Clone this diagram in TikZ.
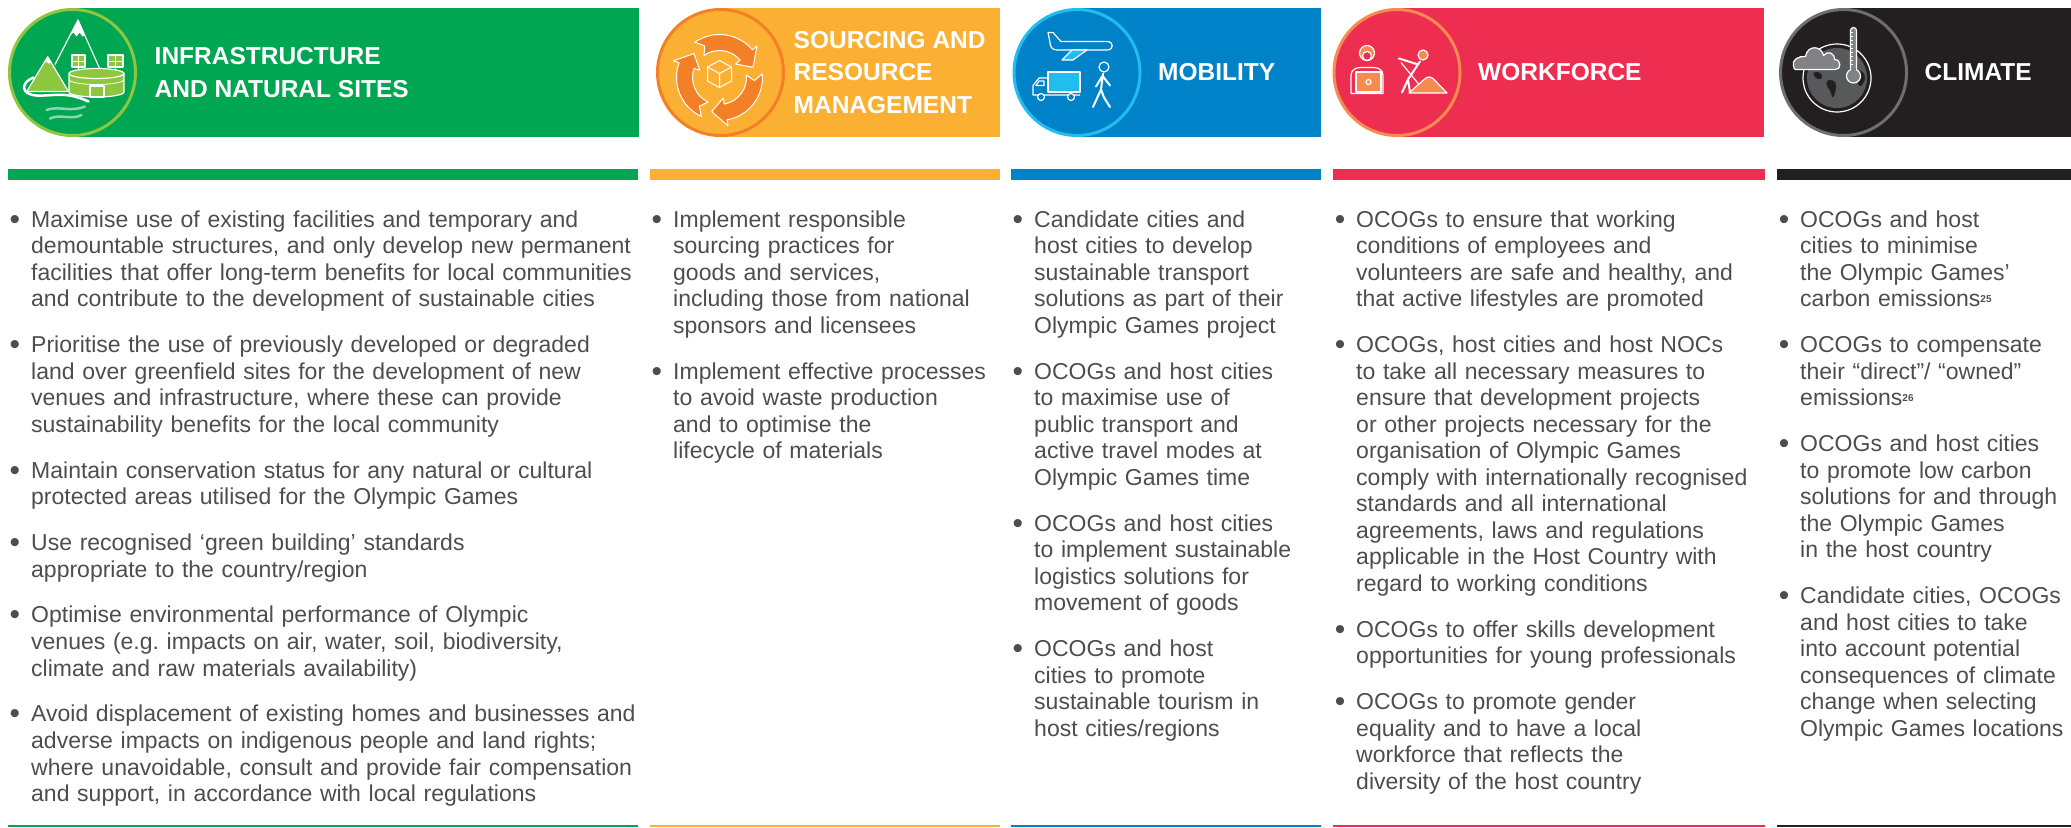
\documentclass[tikz,border=0pt]{standalone}
\usepackage{fontspec}
\setmainfont{Liberation Sans}
\usepackage{tikz}
\usetikzlibrary{positioning}
\definecolor{infragreen}{HTML}{00A651}
\definecolor{infraring}{HTML}{8DC63F}
\definecolor{sourceorange}{HTML}{FBB034}
\definecolor{sourcering}{HTML}{F37F26}
\definecolor{mobblue}{HTML}{0082C8}
\definecolor{mobring}{HTML}{22BDEF}
\definecolor{workred}{HTML}{EE2E50}
\definecolor{workring}{HTML}{F68B4F}
\definecolor{climblack}{HTML}{231F20}
\definecolor{climring}{HTML}{6D6E71}
\definecolor{climcloud}{HTML}{808285}
\definecolor{climglobe}{HTML}{58595B}
\definecolor{bodygray}{HTML}{4D4D4F}
\newcommand\itemdot{\noindent\llap{\raisebox{-2pt}{\scalebox{1.3}{\textbullet}}\hspace{11pt}}}
\newcommand\fnote[1]{\raisebox{4.5pt}{\fontsize{10}{10}\selectfont\bfseries #1}}

\begin{document}
\begin{tikzpicture}[x=1pt,y=-1pt,
  badge/.style={circle,draw=#1,line width=3pt,minimum size=126pt,inner sep=0pt,outer sep=0pt},
  head/.style={text=white,font=\fontsize{24.5}{32.5}\selectfont\bfseries,align=left,inner sep=0pt},
  item/.style={anchor=base west,inner sep=0pt,text width=700pt,align=left,text=bodygray,font=\fontsize{23}{26.56}\selectfont},
  icon/.style={draw=white,line width=1.2pt,line join=round}]
\useasboundingbox (0,0) rectangle (2071,827);

\foreach \col/\c/\r in {infragreen/72.5/639, sourceorange/720.5/1000, mobblue/1077/1321, workred/1397/1764, climblack/1843.5/2071}
  \fill[\col] (\c,8) rectangle (\r,137);
\foreach \col/\l/\r in {infragreen/8/638, sourceorange/650/1000, mobblue/1011/1321, workred/1333/1765, climblack/1777/2071}
  {\fill[\col] (\l,169) rectangle (\r,180);
   \fill[\col] (\l,824.5) rectangle (\r,827);}

\node[badge=infraring,fill=infragreen] (infraicon) at (72.5,72.5) {};
\node[badge=sourcering,fill=sourceorange] (sourceicon) at (720.5,72.5) {};
\node[badge=mobring,fill=mobblue] (mobicon) at (1077,72.5) {};
\node[badge=workring,fill=workred] (workicon) at (1397,72.5) {};
\node[badge=climring,fill=climblack] (climicon) at (1843.5,72.5) {};

\node[head,right=19pt of infraicon] (infrahead) {INFRASTRUCTURE\\AND NATURAL SITES};
\node[head,right=10pt of sourceicon] (sourcehead) {SOURCING AND\\RESOURCE\\MANAGEMENT};
\node[head,right=18pt of mobicon] (mobhead) {MOBILITY};
\node[head,right=18pt of workicon] (workhead) {WORKFORCE};
\node[head,right=18pt of climicon] (climhead) {CLIMATE};

\begin{scope}[shift={(infraicon.center)}]
  \draw[icon] (-17.5,-8) -- (5.5,-52.5) -- (28,-2);
  \fill[white] (5.5,-52.5) -- (-2.5,-37) -- (1,-40) -- (4,-36) -- (7,-40) -- (10,-36) -- (12.4,-37) -- cycle;
  \filldraw[icon,fill=infraring] (-45.8,19) -- (-24.8,-15.8) -- (-4,19) -- cycle;
  \fill[white] (-24.8,-15.8) -- (-28.5,-9.7) -- (-26,-11) -- (-24,-9) -- (-21.1,-9.7) -- cycle;
  \draw[icon] (6,-5.5) -- (6,2) (43,-5.5) -- (43,2);
  \filldraw[icon,fill=infraring] (-0.5,-17.5) rectangle (12.5,-5.5);
  \filldraw[icon,fill=infraring] (35.5,-17.5) rectangle (50.5,-5.5);
  \draw[white,line width=0.6pt] (6,-17.5) -- (6,-5.5) (-0.5,-11.5) -- (12.5,-11.5) (43,-17.5) -- (43,-5.5) (35.5,-11.5) -- (50.5,-11.5);
  \filldraw[icon,fill=infraring] (-3.5,1) -- (-3.5,19.5) arc[start angle=180,end angle=0,x radius=27.5,y radius=5] -- (51.5,1) -- cycle;
  \filldraw[icon,fill=infraring] (24,1) ellipse[x radius=27.5,y radius=5];
  \draw[white,line width=0.8pt] (-3.5,7) arc[start angle=180,end angle=0,x radius=27.5,y radius=5];
  \draw[icon] (17.5,13.5) rectangle (31.5,24.5);
  \draw[white,line width=2.5pt,line cap=round] (-39,5) .. controls (-52,10) and (-52,22) .. (-36,23) .. controls (-20,24) and (-8,18) .. (16,29);
  \draw[white!55!infragreen,line width=2.5pt,line cap=round] (-26,37.5) .. controls (-14,33) and (-2,40) .. (12.5,34);
  \draw[white!55!infragreen,line width=2.5pt,line cap=round] (-22.5,46) .. controls (-12,41) and (-2,48) .. (9,42.5);
\end{scope}

\begin{scope}[shift={(sourceicon.center)},shift={(-1,5)}]
  \foreach \a in {235,355,115}
    \filldraw[fill=sourcering,draw=white,line width=1pt,line join=round] (\a:43) arc[start angle=\a,end angle=\a+85,radius=43] -- (\a+85:49) -- (\a+108:35) -- (\a+85:21) -- (\a+85:27) arc[start angle=\a+85,end angle=\a,radius=27] -- (\a+10:35) -- cycle;
  \draw[white,line width=1pt,line join=round] (0,-17) -- (12,-10.5) -- (12,3.5) -- (0,10) -- (-12,3.5) -- (-12,-10.5) -- cycle (-12,-10.5) -- (0,-4) -- (12,-10.5) (0,-4) -- (0,10);
\end{scope}

\begin{scope}[shift={(mobicon.center)}]
  \draw[icon] (-29,-40) -- (-24,-40) -- (-16,-31) -- (30,-31) .. controls (37,-31) and (37,-22.5) .. (30,-22.5) -- (-20,-22.5) .. controls (-25,-22.5) and (-27,-26) .. (-27,-30) -- cycle;
  \filldraw[icon,fill=mobring] (-5,-22.5) -- (10,-22.5) -- (-4,-12.5) -- (-15,-12.5) -- cycle;
  \filldraw[icon,fill=mobring] (-29,-0.5) rectangle (3,19.5);
  \draw[icon] (-29,5.5) -- (-38,5.5) -- (-44,13) -- (-44,22.5) -- (3,22.5);
  \draw[icon] (-38,8.5) -- (-41,13) -- (-33,13) -- (-33,8.5) -- cycle;
  \filldraw[icon,fill=mobblue] (-36,24.5) circle (3.5) (-6,24.5) circle (3.5);
  \draw[icon] (27,-5.5) circle (5);
  \draw[white,line width=2pt,line cap=round,line join=round] (26,1) -- (24,17) -- (16,34.5) (24,17) -- (27,25) -- (33,34.5) (25,4) -- (19,14) (26,4) -- (33,13);
\end{scope}

\begin{scope}[shift={(workicon.center)}]
  \draw[icon] (-46,21) -- (-46,3) .. controls (-46,-3) and (-41,-5) .. (-36,-5) -- (-24,-5) .. controls (-19,-5) and (-14,-3) .. (-14,3) -- (-14,21) -- cycle;
  \filldraw[icon,fill=workring] (-41,-0.5) rectangle (-16,19.5);
  \draw[icon] (-28.5,9.5) circle (2.5);
  \filldraw[icon,fill=workring] (-30,-19.5) circle (7.5);
  \filldraw[icon,fill=workred] (-30,-16.5) circle (4.5);
  \filldraw[icon,fill=workring] (26,-17.5) circle (5);
  \draw[white,line width=2pt,line cap=round,line join=round] (23,-11) -- (11,7) -- (5,20) (11,7) -- (13,20) (21,-8) -- (2,-14);
  \draw[white,line width=1.2pt] (4,-10) -- (22,12);
  \filldraw[icon,fill=workring] (12,20.5) -- (27,7) .. controls (31,3) and (35,4) .. (38,8) -- (50,20.5) -- cycle;
\end{scope}

\begin{scope}[shift={(climicon.center)}]
  \draw[white,line width=1.2pt] (-6.5,5.5) circle (34);
  \fill[climglobe] (-6.5,5.5) circle (30);
  \fill[climblack] (-16,8) .. controls (-8,6) and (-6,12) .. (-8,18) .. controls (-9,24) and (-12,28) .. (-12,22) .. controls (-13,17) and (-20,12) .. (-16,8) -- cycle;
  \fill[climblack] (12,-2) .. controls (20,-4) and (24,4) .. (20,10) .. controls (18,16) and (14,14) .. (14,8) .. controls (10,6) and (8,0) .. (12,-2) -- cycle;
  \fill[climblack] (-30,0) .. controls (-24,-2) and (-20,2) .. (-22,6) .. controls (-26,8) and (-30,5) .. (-30,0) -- cycle;
  \filldraw[icon,fill=climcloud] (-48,-3) -- (-8,-3) .. controls (-2,-3) and (-2,-13) .. (-9,-13) .. controls (-9,-20) and (-16,-22) .. (-20,-17) .. controls (-22,-27) and (-36,-28) .. (-38,-16) .. controls (-45,-17) and (-52,-12) .. (-50,-7) .. controls (-50,-4) and (-49,-3) .. (-48,-3) -- cycle;
  \filldraw[icon,fill=climcloud,rounded corners=3pt] (7,-45) rectangle (13,-2);
  \filldraw[icon,fill=climcloud] (10,3.5) circle (7);
  \fill[climcloud] (7.8,-5) rectangle (12.2,0);
  \foreach \t in {-40,-36,...,-8}
    \draw[white,line width=0.6pt] (7,\t) -- (9.5,\t);
\end{scope}

\node[item] (infra1) at (31,227) {\itemdot Maximise use of existing facilities and temporary and\\demountable structures, and only develop new permanent\\facilities that offer long-term benefits for local communities\\and contribute to the development of sustainable cities};
\node[item] (infra2) at (31,352.5) {\itemdot Prioritise the use of previously developed or degraded\\land over greenfield sites for the development of new\\venues and infrastructure, where these can provide\\sustainability benefits for the local community};
\node[item] (infra3) at (31,478.1) {\itemdot Maintain conservation status for any natural or cultural\\protected areas utilised for the Olympic Games};
\node[item] (infra4) at (31,550.5) {\itemdot Use recognised ‘green building’ standards\\appropriate to the country/region};
\node[item] (infra5) at (31,622.9) {\itemdot Optimise environmental performance of Olympic\\venues (e.g.\ impacts on air, water, soil, biodiversity,\\climate and raw materials availability)};
\node[item] (infra6) at (31,721.9) {\itemdot Avoid displacement of existing homes and businesses and\\adverse impacts on indigenous people and land rights;\\where unavoidable, consult and provide fair compensation\\and support, in accordance with local regulations};

\node[item] (source1) at (673,227) {\itemdot Implement responsible\\sourcing practices for\\goods and services,\\including those from national\\sponsors and licensees};
\node[item] (source2) at (673,379.1) {\itemdot Implement effective processes\\to avoid waste production\\and to optimise the\\lifecycle of materials};

\node[item] (mob1) at (1034,227) {\itemdot Candidate cities and\\host cities to develop\\sustainable transport\\solutions as part of their\\Olympic Games project};
\node[item] (mob2) at (1034,379.1) {\itemdot OCOGs and host cities\\to maximise use of\\public transport and\\active travel modes at\\Olympic Games time};
\node[item] (mob3) at (1034,531.2) {\itemdot OCOGs and host cities\\to implement sustainable\\logistics solutions for\\movement of goods};
\node[item] (mob4) at (1034,656.7) {\itemdot OCOGs and host\\cities to promote\\sustainable tourism in\\host cities/regions};

\node[item] (work1) at (1356,227) {\itemdot OCOGs to ensure that working\\conditions of employees and\\volunteers are safe and healthy, and\\that active lifestyles are promoted};
\node[item] (work2) at (1356,352.5) {\itemdot OCOGs, host cities and host NOCs\\to take all necessary measures to\\ensure that development projects\\or other projects necessary for the\\organisation of Olympic Games\\comply with internationally recognised\\standards and all international\\agreements, laws and regulations\\applicable in the Host Country with\\regard to working conditions};
\node[item] (work3) at (1356,637.4) {\itemdot OCOGs to offer skills development\\opportunities for young professionals};
\node[item] (work4) at (1356,709.8) {\itemdot OCOGs to promote gender\\equality and to have a local\\workforce that reflects the\\diversity of the host country};

\node[item] (clim1) at (1800,227) {\itemdot OCOGs and host\\cities to minimise\\the Olympic Games’\\carbon emissions\fnote{25}};
\node[item] (clim2) at (1800,352.5) {\itemdot OCOGs to compensate\\their “direct”/ “owned”\\emissions\fnote{26}};
\node[item] (clim3) at (1800,451.5) {\itemdot OCOGs and host cities\\to promote low carbon\\solutions for and through\\the Olympic Games\\in the host country};
\node[item] (clim4) at (1800,603.6) {\itemdot Candidate cities, OCOGs\\and host cities to take\\into account potential\\consequences of climate\\change when selecting\\Olympic Games locations};
\end{tikzpicture}
\end{document}
